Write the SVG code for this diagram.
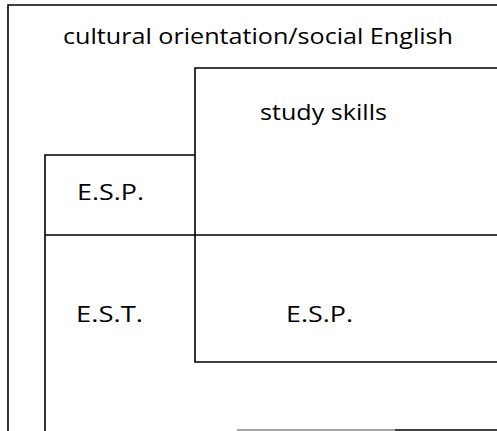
<svg xmlns="http://www.w3.org/2000/svg" width="497" height="431" viewBox="0 0 497 431">
<style>
.ln{fill:none;stroke:#000;stroke-width:1.6}
.t{font-family:"Open Sans","Liberation Sans",sans-serif;font-size:21px;fill:#000}
</style>
<rect width="497" height="431" fill="#fff"/>
<g id="outer">
<path class="ln" d="M497,5 H8 V431"/>
<path d="M237,430 H395" stroke="#888" stroke-width="1.4" fill="none"/>
<path d="M395,430 H497" stroke="#000" stroke-width="1.6" fill="none"/>
<text class="t" x="63" y="44" textLength="390" lengthAdjust="spacingAndGlyphs">cultural orientation/social English</text>
</g>
<g id="study-skills">
<path class="ln" d="M497,68 H195 V362 H497"/>
<text class="t" x="260" y="120" textLength="127" lengthAdjust="spacingAndGlyphs">study skills</text>
</g>
<g id="esp-est">
<path class="ln" d="M195,155 H45 V431"/>
<path class="ln" d="M45,235 H497"/>
<text class="t" x="77" y="200" textLength="67" lengthAdjust="spacingAndGlyphs">E.S.P.</text>
<text class="t" x="76" y="322" textLength="67" lengthAdjust="spacingAndGlyphs">E.S.T.</text>
<text class="t" x="286" y="322" textLength="67" lengthAdjust="spacingAndGlyphs">E.S.P.</text>
</g>
<g id="connectors"></g>
</svg>
